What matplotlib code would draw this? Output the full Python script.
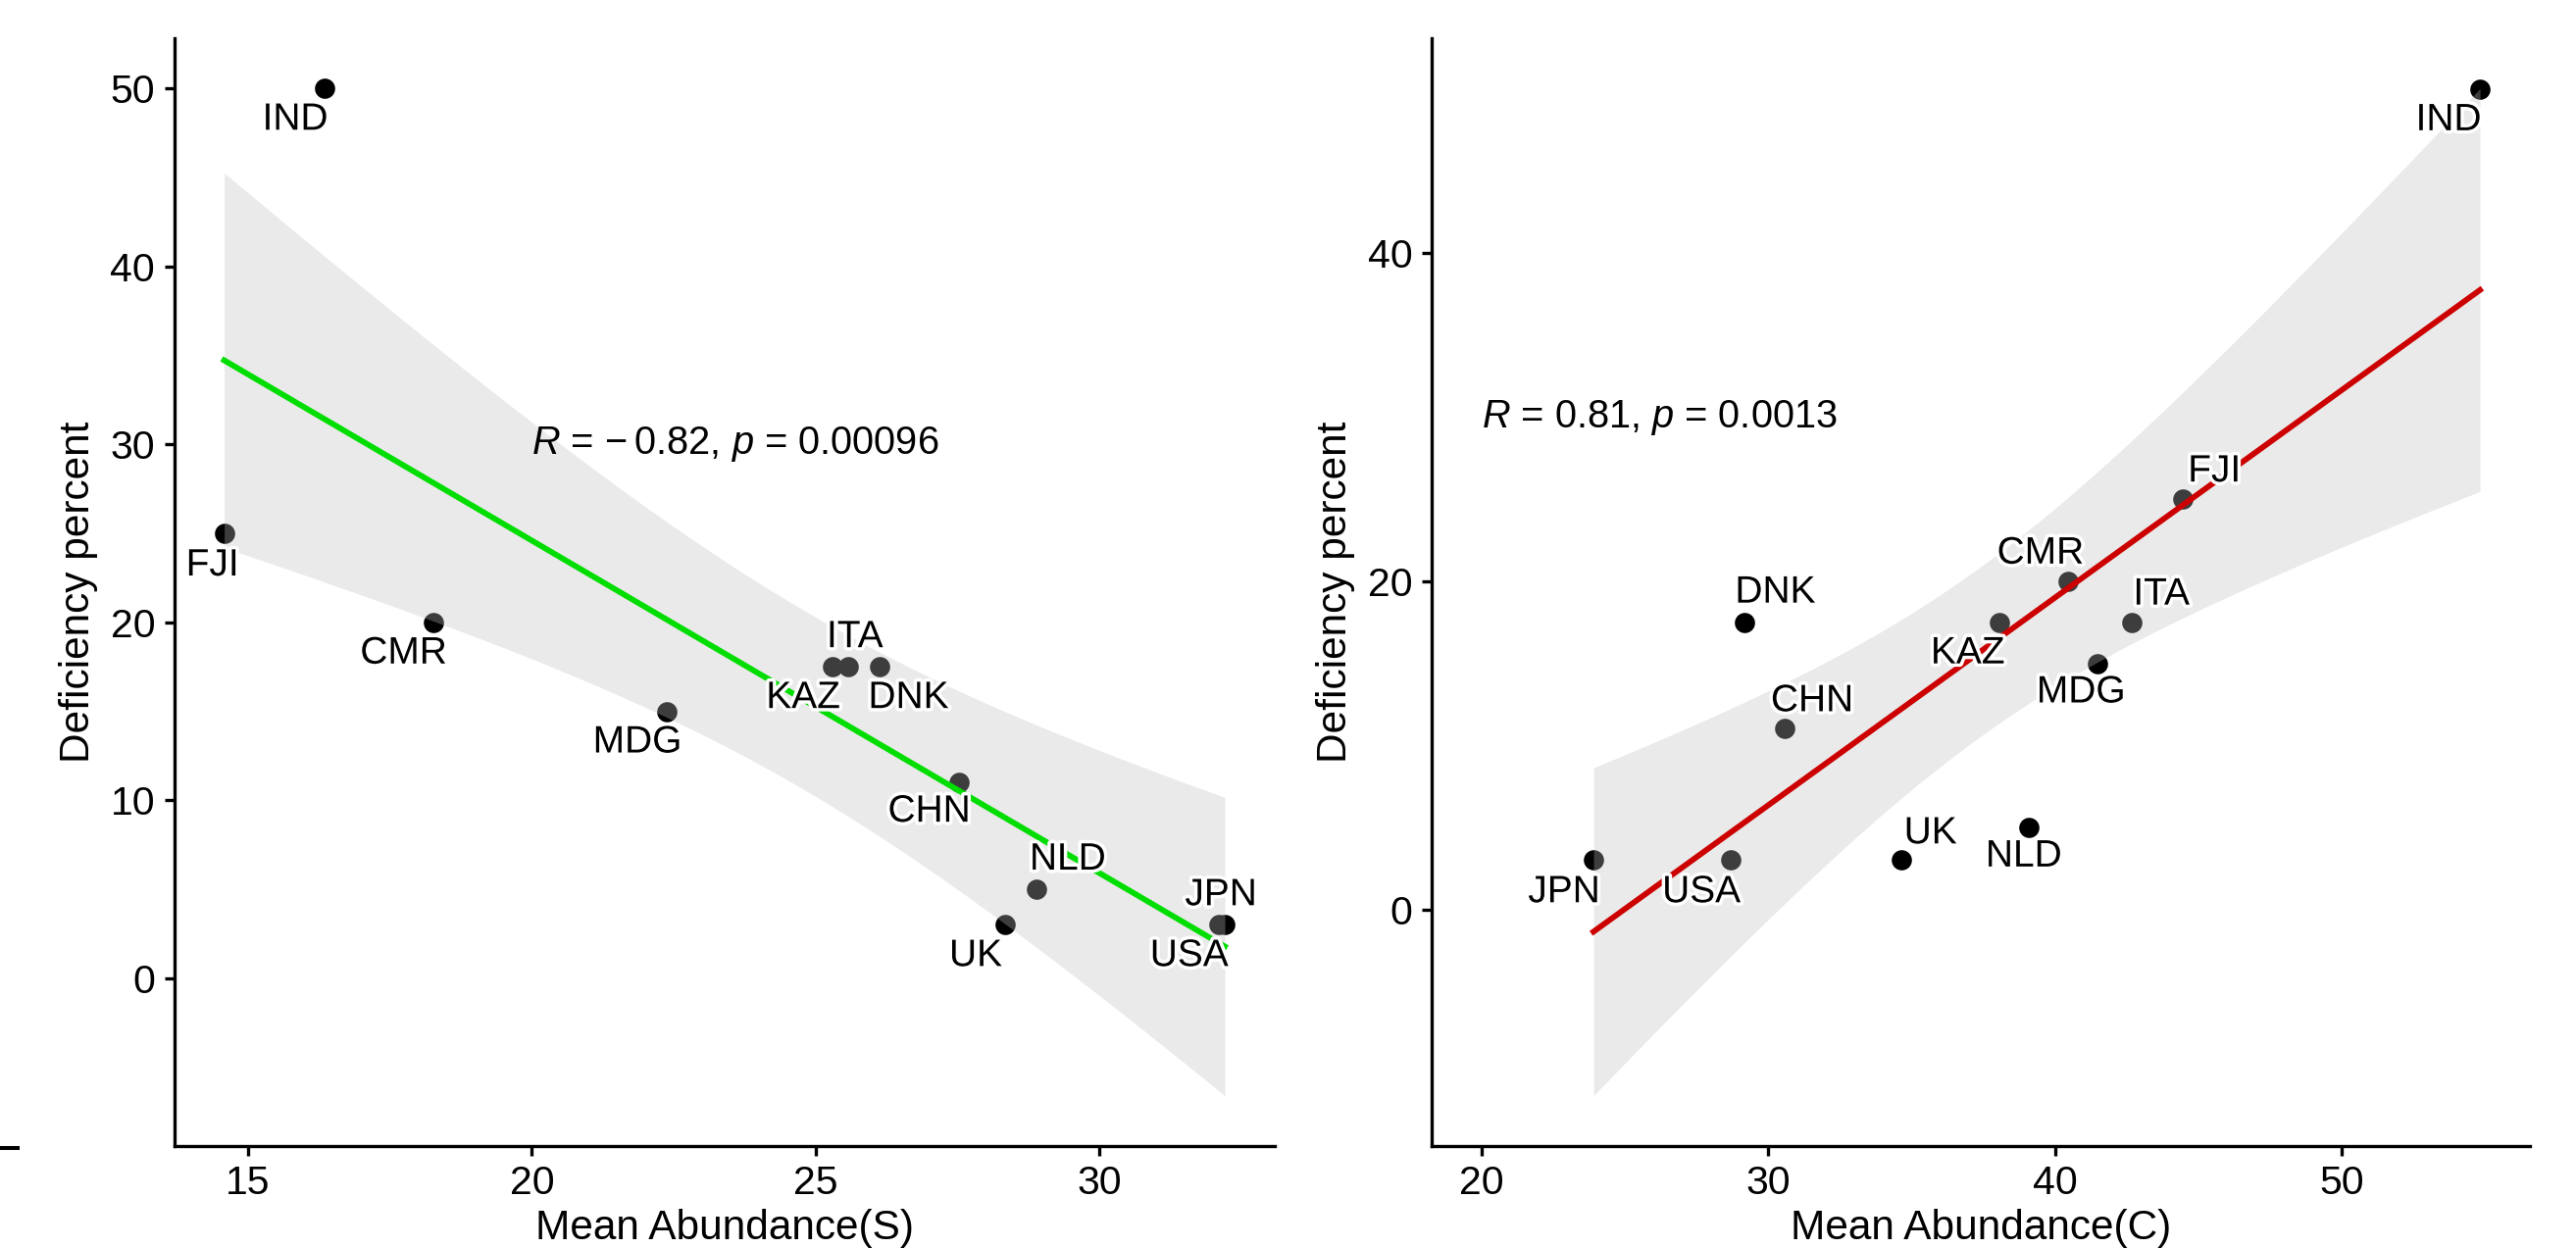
import numpy as np
import matplotlib.pyplot as plt
import matplotlib.patheffects as pe
from matplotlib.lines import Line2D

plt.rcParams['font.family'] = ['Liberation Sans', 'DejaVu Sans']
plt.rcParams['mathtext.fontset'] = 'custom'
plt.rcParams['mathtext.rm'] = 'Liberation Sans'
plt.rcParams['mathtext.it'] = 'Liberation Sans:italic'

# datos
countries = ['IND', 'FJI', 'CMR', 'MDG', 'KAZ', 'ITA', 'DNK', 'CHN', 'NLD', 'UK', 'JPN', 'USA']
deficiency = [50, 25, 20, 15, 17.5, 17.5, 17.5, 11, 5, 3, 3, 3]
abund_s = [16.35, 14.58, 18.26, 22.38, 25.30, 25.57, 26.12, 27.52, 28.89, 28.34, 32.21, 32.10]
abund_c = [54.82, 44.46, 40.45, 41.49, 38.05, 42.68, 29.15, 30.57, 39.08, 34.63, 23.90, 28.69]

label_s = r'$\mathit{R}$ = $-\:$0.82, $\mathit{p}$ = 0.00096'
label_c = r'$\mathit{R}$ = 0.81, $\mathit{p}$ = 0.0013'
xticks_s = [15, 20, 25, 30]
xticks_c = [20, 30, 40, 50]
yticks_s = [0, 10, 20, 30, 40, 50]
yticks_c = [0, 20, 40]

# desplazamiento de etiquetas (pixeles)
off_s = [(-30, -32), (-12, -33), (-30, -32), (-30, -32), (-30, -32), (7, 30),
         (30, -32), (-30, -30), (32, 30), (-30, -32), (-4, 30), (-30, -32)]
off_c = [(-32, -32), (32, 28), (-28, 28), (-17, -30), (-32, -32), (30, 28),
         (32, 30), (28, 28), (-5, -30), (30, 27), (-30, -33), (-30, -33)]

t_crit = 2.228  # t de student, 95%, 10 g.l.


def panel(ax, x, y, color, xlab, rlab, xt, yt, offs):
    x = np.asarray(x, float)
    y = np.asarray(y, float)
    n = len(x)
    b, a = np.polyfit(x, y, 1)
    xs = np.linspace(x.min(), x.max(), 80)
    yfit = a + b * xs
    res = y - (a + b * x)
    s = np.sqrt(np.sum(res**2) / (n - 2))
    se = s * np.sqrt(1.0 / n + (xs - x.mean())**2 / np.sum((x - x.mean())**2))
    lo = yfit - t_crit * se
    hi = yfit + t_crit * se

    ax.scatter(x, y, s=220, color='black', zorder=1, linewidths=0)
    ax.fill_between(xs, lo, hi, color='#C0C0C0', alpha=0.32, linewidth=0, zorder=2)
    ax.plot(xs, yfit, color=color, linewidth=4.2, zorder=3)
    for i in range(n):
        ax.annotate(countries[i], (x[i], y[i]), xytext=offs[i], textcoords='offset pixels',
                    ha='center', va='center', fontsize=28, zorder=4,
                    path_effects=[pe.withStroke(linewidth=5, foreground='white')])
    ax.text(20, 30, rlab, ha='left', va='center', fontsize=28.6, zorder=4)

    # rango como ggplot (expansion 5%)
    x0 = min(x.min(), 20)
    x1 = max(x.max(), 20)
    y0 = min(y.min(), lo.min())
    y1 = max(y.max(), hi.max())
    dx = 0.05 * (x1 - x0)
    dy = 0.05 * (y1 - y0)
    ax.set_xlim(x0 - dx, x1 + dx)
    ax.set_ylim(y0 - dy, y1 + dy)
    ax.set_xticks(xt)
    ax.set_yticks(yt)
    ax.spines['top'].set_visible(False)
    ax.spines['right'].set_visible(False)
    for sp in ['left', 'bottom']:
        ax.spines[sp].set_linewidth(2.4)
    ax.tick_params(length=7, width=2.4, pad=7, labelsize=29.5, colors='black')
    ax.set_xlabel(xlab, fontsize=30.5, labelpad=5)
    ax.set_ylabel('Deficiency percent', fontsize=30.5, labelpad=9)


fig = plt.figure(figsize=(26.27, 12.73), dpi=100)
ax1 = fig.add_axes([0.0676, 0.0817, 0.4273, 0.8877])
ax2 = fig.add_axes([0.5558, 0.0817, 0.4263, 0.8877])

panel(ax1, abund_s, deficiency, '#00DD00', 'Mean Abundance(S)', label_s, xticks_s, yticks_s, off_s)
panel(ax2, abund_c, deficiency, '#CC0000', 'Mean Abundance(C)', label_c, xticks_c, yticks_c, off_c)

# trozo de linea suelto a la izquierda
fig.add_artist(Line2D([0, 18 / 2627], [0.0804, 0.0804], color='black', linewidth=2.9,
                      transform=fig.transFigure))

plt.savefig('out.png', dpi=100)
